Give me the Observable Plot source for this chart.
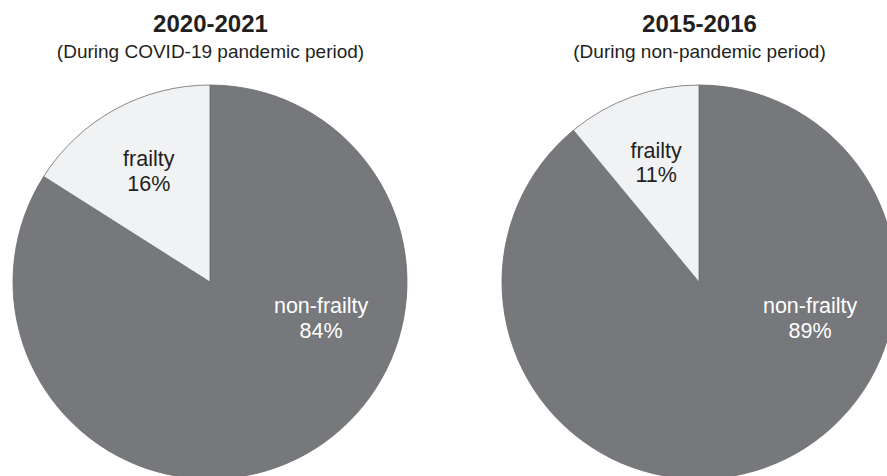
<!DOCTYPE html>
<html>
<head>
<meta charset="utf-8">
<script src="https://cdn.jsdelivr.net/npm/d3@7"></script>
<script src="https://cdn.jsdelivr.net/npm/@observablehq/plot@0.6"></script>
<style>
  html, body { margin: 0; padding: 0; background: #fff; }
  #chart svg { display: block; }
</style>
</head>
<body>
<div id="chart"></div>
<script>
// ---- data ----
const periods = ["2020-2021", "2015-2016"];
const subtitles = ["(During COVID-19 pandemic period)", "(During non-pandemic period)"];
const categories = ["non-frailty", "frailty"];
const nonFrailtyPct = [84, 89];
const frailtyPct = [16, 11];

// ---- layout (pixel space) ----
const W = 887, H = 476;
const centersX = [210, 699];
const centerY = 282;
const R = 197;
const sliceColor = {"non-frailty": "#77787b", "frailty": "#f1f2f4"};
const textColor = {"non-frailty": "#ffffff", "frailty": "#231f20"};
const font = "Arial, 'Liberation Sans', Helvetica, sans-serif";

const rows = [];
periods.forEach((p, i) => {
  rows.push({period: p, category: "non-frailty", value: nonFrailtyPct[i]});
  rows.push({period: p, category: "frailty", value: frailtyPct[i]});
});

const pie = d3.pie().sort(null).value(d => d.value);
const arcs = [];
periods.forEach((p, i) => {
  const slices = pie(rows.filter(r => r.period === p));
  slices.forEach(s => arcs.push({...s, period: p, cx: centersX[i], cy: centerY}));
});

// label positions
const labelRows = arcs.map(a => {
  let dx, dy;
  if (a.data.category === "frailty") {
    const c = d3.arc().innerRadius(R * 0.65).outerRadius(R * 0.65).centroid(a);
    dx = c[0]; dy = c[1];
  } else {
    const ang = 107.5 * Math.PI / 180, rr = 116;
    dx = rr * Math.sin(ang); dy = -rr * Math.cos(ang);
  }
  return {x: a.cx + dx, y: a.cy + dy, text: `${a.data.category}\n${a.data.value}%`, category: a.data.category};
});

const titleRows = periods.map((p, i) => ({x: centersX[i], title: p, subtitle: subtitles[i]}));

function pieMark(index, scales) {
  const g = d3.create("svg:g");
  const arcGen = d3.arc().innerRadius(0).outerRadius(R);
  for (const a of arcs) {
    g.append("path")
      .attr("transform", `translate(${scales.x(a.cx)},${scales.y(a.cy)})`)
      .attr("d", arcGen(a))
      .attr("fill", sliceColor[a.data.category])
      .attr("stroke", "#6b6c6f")
      .attr("stroke-width", 0.8);
  }
  return g.node();
}

const chart = Plot.plot({
  width: W,
  height: H,
  margin: 0,
  x: {domain: [0, W], range: [0, W], axis: null},
  y: {domain: [0, H], range: [0, H], axis: null},
  style: {fontFamily: font, background: "#fff"},
  marks: [
    pieMark,
    Plot.text(labelRows, {
      x: "x", y: "y", text: "text",
      fill: d => textColor[d.category],
      fontSize: 21.5, lineHeight: 1.15, fontFamily: font
    }),
    Plot.text(titleRows, {
      x: "x", y: () => 24, text: "title",
      fontSize: 24, fontWeight: "bold", fill: "#231f20", fontFamily: font
    }),
    Plot.text(titleRows, {
      x: "x", y: () => 51, text: "subtitle",
      fontSize: 19, fill: "#231f20", fontFamily: font
    })
  ]
});
document.getElementById("chart").appendChild(chart);
</script>
</body>
</html>
